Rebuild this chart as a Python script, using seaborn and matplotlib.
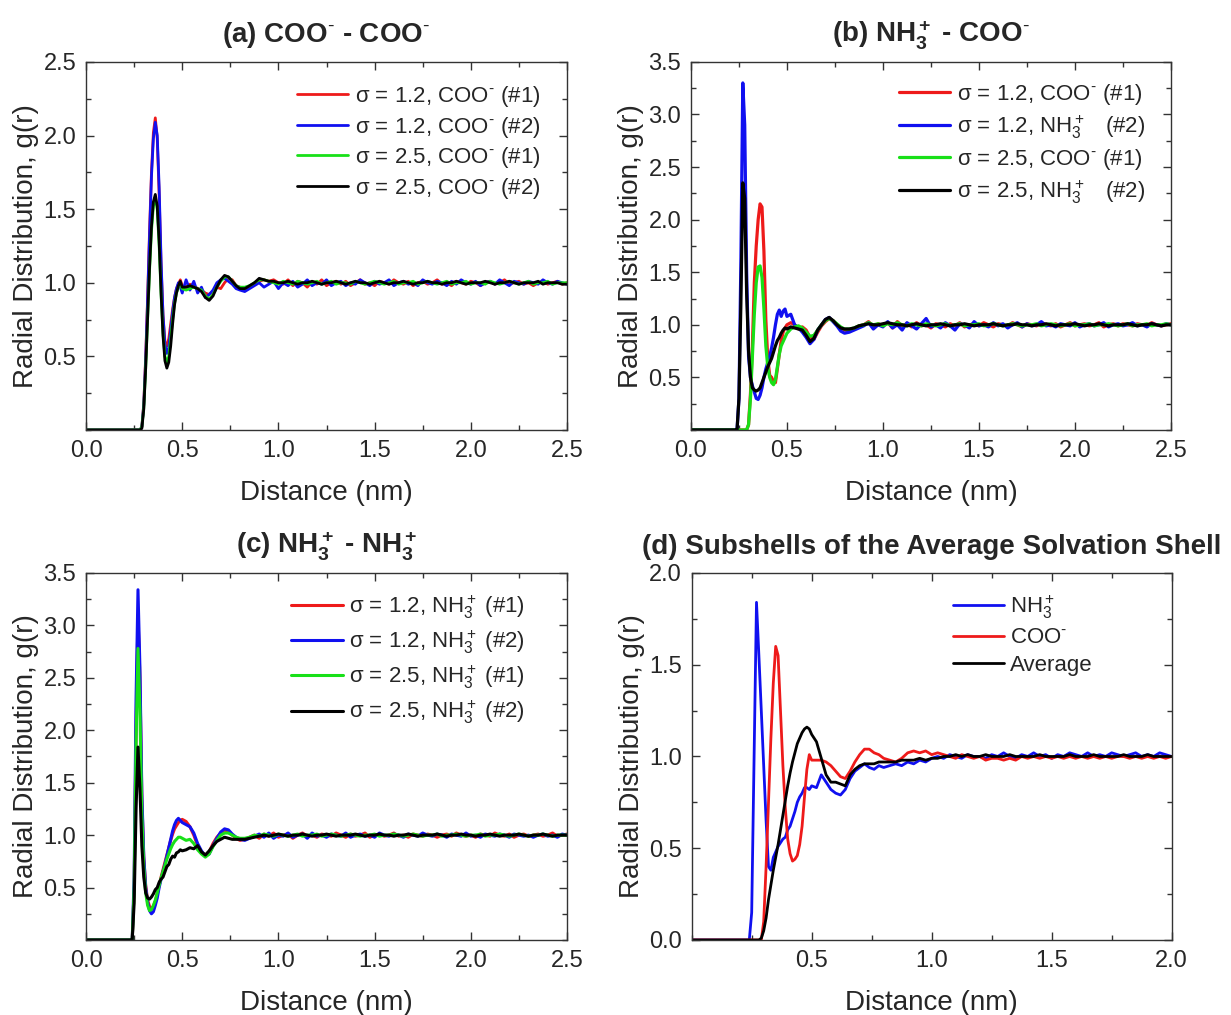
import numpy as np
import pandas as pd
import matplotlib
matplotlib.use("Agg")
import matplotlib.pyplot as plt
import seaborn as sns
from matplotlib.ticker import MultipleLocator, FixedLocator

# ---------------- distance grids (nm) ----------------
r_fine = np.round(np.concatenate([[0.0], np.arange(0.20, 0.5001, 0.01)]), 3)   # 32 pts
r_mid = np.round(np.arange(0.52, 0.8001, 0.02), 3)                              # 15 pts
r_tail_a = np.round(np.arange(0.825, 2.5001, 0.025), 3)                         # 68 pts
r_tail_d = np.round(np.arange(0.825, 2.0001, 0.025), 3)                         # 48 pts

COO = "COO$^{\\text{-}}$"
NH3 = "NH$_3^+$"

# ---------------- panel (a) COO- - COO- ----------------
a_labels = [f"σ = 1.2, {COO} (#1)", f"σ = 1.2, {COO} (#2)",
            f"σ = 2.5, {COO} (#1)", f"σ = 2.5, {COO} (#2)"]
a_red_fine = [0.0, 0, 0, 0, 0, 0, 0, 0, 0, 0,
              0.02, 0.18, 0.50, 0.90, 1.35, 1.75, 2.02, 2.12, 1.98, 1.60,
              1.12, 0.78, 0.60, 0.57, 0.62, 0.72, 0.82, 0.90, 0.96, 0.99,
              1.02, 0.98]
a_red_mid = [0.97, 0.99, 0.98, 0.96, 0.95, 0.93, 0.92, 0.94, 0.97, 0.96, 1.00, 1.03, 1.02, 0.98, 0.97]
a_red_tail = [0.96, 0.97, 0.99, 1.01, 1.02, 1.01, 1.02, 1.00, 0.99, 1.02,
              0.98, 1.01, 1.00, 0.97, 1.01, 0.99, 1.02, 0.98, 1.00, 1.01,
              0.99, 1.01, 0.98, 1.00, 1.02, 0.99, 1.00, 0.98, 1.01, 1.00,
              0.99, 1.02, 1.00, 0.99, 1.01, 0.98, 1.00, 1.01, 0.99, 1.00,
              1.02, 0.99, 1.00, 0.98, 1.01, 1.00, 0.99, 1.01, 1.00, 0.98,
              1.00, 1.01, 0.99, 1.00, 1.02, 0.99, 1.00, 1.01, 0.99, 1.00,
              0.98, 1.00, 1.01, 0.99, 1.00, 1.01, 0.99, 1.00]
a_blue_fine = [0.0, 0, 0, 0, 0, 0, 0, 0, 0, 0,
               0.02, 0.17, 0.48, 0.88, 1.32, 1.72, 1.98, 2.09, 2.00, 1.65,
               1.15, 0.78, 0.58, 0.52, 0.56, 0.68, 0.80, 0.90, 0.96, 1.00,
               0.97, 0.93]
a_blue_mid = [1.02, 0.95, 1.01, 0.93, 0.97, 0.90, 0.92, 0.95, 1.00, 1.02, 1.03, 1.01, 0.99, 0.96, 0.95]
a_blue_tail = [0.94, 0.96, 0.98, 1.00, 0.97, 0.99, 1.01, 0.96, 1.00, 0.98,
               1.01, 0.97, 0.99, 1.02, 0.98, 1.00, 0.99, 1.02, 0.98, 1.00,
               1.01, 0.98, 1.00, 0.99, 1.02, 1.00, 0.98, 1.01, 0.99, 1.00,
               1.02, 0.98, 1.00, 1.01, 0.99, 1.00, 0.98, 1.02, 1.00, 0.99,
               1.01, 1.00, 0.98, 1.01, 0.99, 1.02, 1.00, 0.99, 1.01, 0.98,
               1.00, 1.01, 0.99, 1.02, 1.00, 0.98, 1.01, 1.00, 0.99, 1.01,
               1.00, 0.99, 1.02, 1.00, 0.99, 1.01, 1.00, 0.99]
a_green_fine = [0.0, 0, 0, 0, 0, 0, 0, 0, 0, 0,
                0.02, 0.15, 0.42, 0.75, 1.08, 1.35, 1.52, 1.58, 1.50, 1.25,
                0.92, 0.66, 0.50, 0.46, 0.50, 0.62, 0.75, 0.86, 0.93, 0.97,
                0.99, 0.96]
a_green_mid = [0.95, 0.96, 0.97, 0.96, 0.95, 0.91, 0.89, 0.92, 0.97, 1.01, 1.04, 1.04, 1.01, 0.98, 0.97]
a_green_tail = [0.97, 0.98, 1.00, 1.02, 1.02, 1.01, 1.00, 0.99, 1.01, 1.00,
                0.99, 1.01, 1.00, 0.99, 1.00, 1.01, 0.99, 1.00, 1.01, 0.99,
                1.00, 1.00, 0.99, 1.01, 1.00, 0.99, 1.00, 1.01, 1.00, 0.99,
                1.00, 1.01, 0.99, 1.00, 1.00, 1.01, 0.99, 1.00, 1.01, 1.00,
                0.99, 1.00, 1.01, 0.99, 1.00, 1.00, 1.01, 0.99, 1.00, 1.00,
                0.99, 1.01, 1.00, 0.99, 1.00, 1.01, 1.00, 0.99, 1.00, 1.01,
                0.99, 1.00, 1.00, 1.01, 0.99, 1.00, 1.00, 1.00]
a_black_fine = [0.0, 0, 0, 0, 0, 0, 0, 0, 0, 0,
                0.01, 0.14, 0.42, 0.76, 1.10, 1.38, 1.55, 1.60, 1.52, 1.28,
                0.93, 0.64, 0.47, 0.42, 0.46, 0.57, 0.72, 0.85, 0.93, 0.98,
                1.01, 0.97]
a_black_mid = [0.97, 0.98, 0.97, 0.96, 0.94, 0.90, 0.88, 0.91, 0.97, 1.02, 1.05, 1.04, 1.01, 0.98, 0.96]
a_black_tail = [0.96, 0.98, 1.00, 1.03, 1.02, 1.01, 1.01, 1.00, 1.00, 1.01,
                1.00, 0.99, 1.00, 1.00, 1.01, 1.00, 0.99, 1.00, 1.00, 1.01,
                1.00, 0.99, 1.00, 1.01, 1.00, 1.00, 0.99, 1.00, 1.01, 1.00,
                0.99, 1.00, 1.00, 1.01, 1.00, 0.99, 1.00, 1.00, 1.01, 1.00,
                1.00, 0.99, 1.00, 1.00, 1.01, 1.00, 0.99, 1.00, 1.00, 1.00,
                1.01, 1.00, 0.99, 1.00, 1.00, 1.01, 1.00, 0.99, 1.00, 1.00,
                1.00, 1.01, 0.99, 1.00, 1.00, 1.00, 0.99, 0.99]

# ---------------- panel (b) NH3+ - COO- ----------------
b_labels = [f"σ = 1.2, {COO} (#1)", f"σ = 1.2, {NH3}   (#2)",
            f"σ = 2.5, {COO} (#1)", f"σ = 2.5, {NH3}   (#2)"]
b_red_fine = [0.0, 0, 0, 0, 0, 0, 0, 0, 0, 0, 0,
              0.05, 0.35, 0.80, 1.40, 1.75, 2.00, 2.15, 2.12, 1.70, 1.05,
              0.68, 0.52, 0.50, 0.46, 0.45, 0.58, 0.72, 0.85, 0.93, 0.97,
              1.00]
b_red_mid = [1.02, 1.00, 0.96, 0.98, 0.95, 0.88, 0.86, 0.93, 0.99, 1.03, 1.06, 1.04, 1.00, 0.97, 0.95]
b_red_tail = [0.94, 0.96, 0.99, 1.00, 1.03, 0.98, 1.01, 0.99, 1.02, 0.97,
              1.03, 0.99, 1.01, 0.98, 1.02, 0.99, 1.00, 0.97, 1.01, 1.00,
              0.98, 1.01, 0.99, 1.02, 0.98, 1.00, 1.01, 0.99, 1.02, 1.00,
              0.98, 1.01, 1.00, 0.99, 1.02, 1.00, 0.98, 1.01, 1.00, 0.99,
              1.02, 1.00, 0.99, 1.01, 0.98, 1.00, 1.02, 0.99, 1.00, 1.01,
              0.99, 1.00, 1.02, 0.98, 1.00, 1.01, 0.99, 1.01, 1.00, 0.99,
              1.01, 1.00, 0.99, 1.02, 1.00, 0.99, 1.00, 1.01]
b_blue_fine = [0.0, 0, 0, 0, 0, 0,
               0.30, 1.60, 3.30, 2.90, 1.50, 0.70, 0.50, 0.42, 0.36, 0.30,
               0.29, 0.33, 0.40, 0.50, 0.58, 0.64, 0.70, 0.78, 0.88, 1.00,
               1.10, 1.14, 1.08, 1.13, 1.15, 1.08]
b_blue_mid = [1.10, 1.00, 0.97, 0.93, 0.88, 0.82, 0.86, 0.95, 1.00, 1.05, 1.07, 1.03, 0.99, 0.94, 0.92]
b_blue_tail = [0.93, 0.95, 0.97, 0.99, 1.02, 0.96, 1.00, 0.98, 1.03, 0.97,
               1.00, 0.95, 1.02, 0.99, 0.96, 1.01, 1.06, 0.98, 1.00, 0.97,
               1.02, 0.99, 0.95, 1.01, 1.00, 0.97, 1.03, 0.99, 1.00, 0.98,
               1.02, 0.99, 1.01, 0.97, 1.00, 1.02, 0.98, 1.01, 0.99, 1.00,
               1.03, 0.99, 1.00, 0.98, 1.01, 1.00, 0.99, 1.02, 0.98, 1.00,
               1.01, 0.99, 1.00, 1.02, 0.98, 1.00, 1.01, 0.99, 1.00, 1.02,
               0.99, 1.00, 0.98, 1.01, 1.00, 0.99, 1.01, 1.00]
b_green_fine = [0.0, 0, 0, 0, 0, 0, 0, 0, 0, 0, 0,
                0.05, 0.30, 0.70, 1.10, 1.40, 1.55, 1.56, 1.45, 1.15, 0.80,
                0.60, 0.50, 0.45, 0.43, 0.48, 0.60, 0.72, 0.80, 0.84, 0.88,
                0.92]
b_green_mid = [0.96, 0.98, 0.99, 0.97, 0.93, 0.89, 0.90, 0.95, 1.00, 1.04, 1.06, 1.04, 1.01, 0.98, 0.96]
b_green_tail = [0.96, 0.97, 0.99, 1.00, 1.02, 1.00, 1.01, 0.99, 1.01, 1.00,
                1.02, 1.00, 0.99, 1.01, 1.00, 0.99, 1.01, 1.00, 0.99, 1.00,
                1.01, 0.99, 1.00, 1.01, 0.99, 1.00, 1.00, 1.01, 0.99, 1.00,
                1.01, 1.00, 0.99, 1.00, 1.01, 1.00, 0.99, 1.00, 1.00, 1.01,
                0.99, 1.00, 1.01, 1.00, 0.99, 1.00, 1.01, 0.99, 1.00, 1.00,
                1.01, 0.99, 1.00, 1.00, 1.01, 1.00, 0.99, 1.00, 1.01, 0.99,
                1.00, 1.00, 1.01, 0.99, 1.00, 1.00, 1.01, 1.00]
b_black_fine = [0.0, 0, 0, 0, 0, 0,
                0.30, 1.20, 2.35, 2.20, 1.30, 0.75, 0.50, 0.40, 0.38, 0.37,
                0.38, 0.40, 0.45, 0.50, 0.55, 0.60, 0.64, 0.68, 0.74, 0.80,
                0.85, 0.88, 0.92, 0.95, 0.97, 0.96]
b_black_mid = [0.98, 0.97, 0.96, 0.95, 0.90, 0.84, 0.87, 0.95, 1.00, 1.05, 1.07, 1.04, 1.00, 0.97, 0.96]
b_black_tail = [0.96, 0.97, 0.99, 1.00, 1.01, 1.00, 1.00, 1.01, 1.02, 1.01,
                1.00, 1.00, 0.99, 1.00, 1.01, 1.00, 0.99, 1.00, 1.00, 1.01,
                1.00, 0.99, 1.00, 1.00, 1.01, 1.00, 0.99, 1.00, 1.00, 1.00,
                1.01, 1.00, 0.99, 1.00, 1.00, 1.01, 1.00, 1.00, 0.99, 1.00,
                1.00, 1.01, 1.00, 0.99, 1.00, 1.00, 1.00, 1.01, 1.00, 0.99,
                1.00, 1.00, 1.01, 1.00, 0.99, 1.00, 1.00, 1.00, 1.01, 1.00,
                0.99, 1.00, 1.00, 1.01, 1.00, 0.99, 1.00, 1.00]

# ---------------- panel (c) NH3+ - NH3+ ----------------
c_labels = [f"σ = 1.2, {NH3} (#1)", f"σ = 1.2, {NH3} (#2)",
            f"σ = 2.5, {NH3} (#1)", f"σ = 2.5, {NH3} (#2)"]
c_red_fine = [0.0, 0, 0, 0, 0, 0,
              0.50, 2.00, 3.10, 2.50, 1.35, 0.78, 0.52, 0.38, 0.32, 0.30,
              0.32, 0.37, 0.44, 0.52, 0.60, 0.67, 0.74, 0.81, 0.88, 0.95,
              1.01, 1.06, 1.09, 1.12, 1.14, 1.15]
c_red_mid = [1.13, 1.08, 1.00, 0.90, 0.84, 0.81, 0.84, 0.92, 0.98, 1.02, 1.05, 1.03, 1.00, 0.97, 0.95]
c_red_tail = [0.96, 0.98, 1.00, 0.97, 1.01, 0.99, 1.02, 0.98, 1.00, 1.01,
              0.97, 1.00, 1.02, 0.99, 1.00, 0.98, 1.01, 1.00, 0.99, 1.02,
              1.00, 0.98, 1.01, 0.99, 1.00, 1.02, 0.98, 1.00, 1.01, 0.99,
              1.00, 1.02, 0.99, 1.00, 0.98, 1.01, 1.00, 0.99, 1.01, 1.00,
              0.98, 1.00, 1.01, 0.99, 1.02, 1.00, 0.99, 1.00, 0.98, 1.01,
              1.00, 0.99, 1.02, 1.00, 0.99, 1.01, 0.98, 1.00, 1.01, 0.99,
              1.00, 1.01, 0.99, 1.00, 1.02, 0.99, 1.00, 1.01]
c_blue_fine = [0.0, 0, 0, 0, 0, 0,
               0.60, 2.30, 3.34, 2.60, 1.40, 0.80, 0.50, 0.36, 0.28, 0.25,
               0.27, 0.33, 0.40, 0.50, 0.58, 0.65, 0.72, 0.80, 0.88, 0.96,
               1.04, 1.10, 1.14, 1.16, 1.14, 1.12]
c_blue_mid = [1.10, 1.08, 1.02, 0.92, 0.85, 0.80, 0.82, 0.90, 0.97, 1.03, 1.06, 1.05, 1.01, 0.98, 0.96]
c_blue_tail = [0.95, 0.97, 0.99, 1.01, 0.98, 1.02, 0.97, 1.00, 0.99, 1.02,
               0.98, 1.00, 1.01, 0.97, 1.02, 0.99, 1.00, 0.98, 1.01, 1.00,
               0.99, 1.02, 0.98, 1.00, 1.01, 0.99, 1.00, 0.98, 1.02, 1.00,
               0.99, 1.01, 1.00, 0.98, 1.01, 1.00, 0.99, 1.02, 1.00, 0.99,
               1.01, 1.00, 0.98, 1.01, 1.00, 0.99, 1.02, 0.99, 1.00, 0.98,
               1.01, 1.00, 0.99, 1.01, 1.00, 0.98, 1.01, 1.00, 0.99, 1.00,
               0.98, 1.00, 1.01, 0.99, 1.00, 0.98, 1.01, 1.00]
c_green_fine = [0.0, 0, 0, 0, 0, 0,
                0.50, 1.90, 2.78, 2.20, 1.20, 0.70, 0.45, 0.33, 0.28, 0.29,
                0.33, 0.38, 0.45, 0.52, 0.59, 0.65, 0.71, 0.77, 0.82, 0.87,
                0.91, 0.94, 0.96, 0.98, 0.98, 0.97]
c_green_mid = [0.95, 0.96, 0.92, 0.86, 0.82, 0.79, 0.82, 0.89, 0.95, 1.00, 1.02, 1.02, 1.00, 0.98, 0.97]
c_green_tail = [0.97, 0.98, 1.00, 0.99, 1.01, 1.00, 0.99, 1.01, 1.00, 0.99,
                1.00, 1.01, 0.99, 1.00, 1.00, 1.01, 0.99, 1.00, 1.01, 1.00,
                0.99, 1.00, 1.01, 1.00, 0.99, 1.00, 1.00, 1.01, 0.99, 1.00,
                1.00, 1.01, 1.00, 0.99, 1.00, 1.01, 1.00, 0.99, 1.00, 1.00,
                1.01, 0.99, 1.00, 1.00, 1.01, 1.00, 0.99, 1.00, 1.00, 1.01,
                0.99, 1.00, 1.00, 1.01, 1.00, 0.99, 1.00, 1.01, 1.00, 0.99,
                1.00, 1.00, 1.01, 1.00, 0.99, 1.00, 1.00, 1.00]
c_black_fine = [0.0, 0, 0, 0, 0, 0,
                0.35, 1.25, 1.84, 1.45, 0.90, 0.60, 0.45, 0.40, 0.39, 0.41,
                0.44, 0.48, 0.50, 0.55, 0.58, 0.60, 0.65, 0.70, 0.72, 0.77,
                0.80, 0.79, 0.83, 0.84, 0.86, 0.85]
c_black_mid = [0.86, 0.88, 0.87, 0.90, 0.84, 0.81, 0.85, 0.90, 0.94, 0.96, 0.98, 0.97, 0.96, 0.96, 0.96]
c_black_tail = [0.96, 0.97, 0.98, 0.99, 1.00, 0.99, 1.00, 1.01, 1.00, 0.99,
                1.00, 1.00, 1.01, 1.00, 0.99, 1.00, 1.00, 1.01, 1.00, 0.99,
                1.00, 1.00, 1.00, 1.01, 1.00, 0.99, 1.00, 1.00, 1.01, 1.00,
                1.00, 0.99, 1.00, 1.00, 1.01, 1.00, 0.99, 1.00, 1.00, 1.00,
                1.01, 1.00, 0.99, 1.00, 1.00, 1.01, 1.00, 1.00, 0.99, 1.00,
                1.00, 1.01, 1.00, 0.99, 1.00, 1.00, 1.00, 1.01, 1.00, 0.99,
                1.00, 1.00, 1.01, 1.00, 0.99, 1.00, 1.00, 1.00]

# ---------------- panel (d) subshells ----------------
d_labels = [NH3, COO, "Average"]
d_blue_fine = [0.0, 0, 0, 0, 0, 0,
               0.15, 1.00, 1.84, 1.55, 1.25, 0.95, 0.65, 0.40, 0.38, 0.45,
               0.48, 0.51, 0.53, 0.55, 0.56, 0.60, 0.62, 0.66, 0.70, 0.75,
               0.78, 0.80, 0.83, 0.83, 0.82, 0.84]
d_blue_mid = [0.83, 0.90, 0.86, 0.82, 0.80, 0.79, 0.82, 0.88, 0.92, 0.94, 0.96, 0.94, 0.93, 0.95, 0.94]
d_blue_tail = [0.95, 0.96, 0.95, 0.97, 0.96, 0.98, 0.97, 0.99, 1.00, 0.99,
               1.01, 1.00, 0.99, 1.01, 1.00, 1.00, 0.99, 1.01, 1.00, 1.02,
               1.00, 0.99, 1.01, 1.00, 1.02, 1.00, 1.01, 0.99, 1.01, 1.00,
               1.02, 1.01, 1.00, 1.02, 1.00, 1.01, 1.00, 1.02, 1.01, 1.00,
               1.01, 1.02, 1.00, 1.01, 1.00, 1.02, 1.01, 1.00]
d_red_fine = [0.0, 0, 0, 0, 0, 0, 0, 0, 0, 0,
              0.0, 0.10, 0.40, 0.75, 1.10, 1.40, 1.60, 1.55, 1.25, 0.95,
              0.72, 0.55, 0.47, 0.43, 0.44, 0.46, 0.52, 0.62, 0.78, 0.93,
              1.01, 0.98]
d_red_mid = [0.98, 0.98, 0.97, 0.95, 0.92, 0.89, 0.88, 0.92, 0.97, 1.01, 1.04, 1.04, 1.02, 1.01, 0.99]
d_red_tail = [0.98, 0.97, 0.99, 1.02, 1.03, 1.02, 1.03, 1.01, 1.02, 1.01,
              1.00, 0.99, 1.01, 1.00, 0.99, 1.00, 0.98, 0.99, 0.99, 0.98,
              0.99, 0.98, 1.00, 0.99, 1.00, 0.99, 1.00, 0.99, 1.00, 0.99,
              1.00, 0.99, 1.00, 0.99, 1.00, 0.99, 1.00, 0.99, 1.00, 1.00,
              0.99, 1.00, 0.99, 1.00, 0.99, 1.00, 0.99, 1.00]
d_black_fine = [0.0, 0, 0, 0, 0, 0, 0, 0, 0, 0,
                0.01, 0.05, 0.12, 0.22, 0.30, 0.38, 0.45, 0.52, 0.60, 0.68,
                0.76, 0.84, 0.91, 0.97, 1.02, 1.07, 1.10, 1.13, 1.15, 1.16,
                1.15, 1.12]
d_black_mid = [1.08, 0.99, 0.90, 0.86, 0.86, 0.85, 0.84, 0.90, 0.93, 0.95, 0.96, 0.96, 0.96, 0.97, 0.97]
d_black_tail = [0.97, 0.97, 0.98, 0.98, 0.98, 0.99, 0.98, 0.99, 0.99, 1.00,
                1.00, 1.01, 1.00, 1.01, 1.00, 1.00, 1.01, 1.00, 1.00, 1.00,
                1.01, 1.00, 1.00, 1.00, 1.00, 1.01, 1.00, 1.00, 1.00, 1.00,
                1.01, 1.00, 1.00, 1.00, 1.01, 1.00, 1.00, 1.00, 1.00, 1.01,
                1.00, 1.00, 1.00, 1.01, 1.00, 1.00, 1.00, 1.00]

# ---------------- style ----------------
sns.set_style("ticks")
plt.rcParams["font.family"] = ["Liberation Sans", "DejaVu Sans"]
plt.rcParams["mathtext.fontset"] = "custom"
plt.rcParams["mathtext.rm"] = "Liberation Sans"
plt.rcParams["mathtext.it"] = "Liberation Sans:italic"
plt.rcParams["mathtext.bf"] = "Liberation Sans:bold"
plt.rcParams["mathtext.default"] = "regular"

RED, BLUE, GREEN, BLACK = "#ee1a1a", "#1010f0", "#18e018", "#000000"

fig = plt.figure(figsize=(12.31, 10.15), dpi=100)


def build(fines, mids, tails, r_tail):
    r = np.concatenate([r_fine, r_mid, r_tail])
    out = []
    for f, m, t in zip(fines, mids, tails):
        y = np.concatenate([f, m, t])
        assert len(y) == len(r), (len(f), len(m), len(t))
        out.append(y)
    return r, out


def draw(ax, r, ys, labels, colors, lw, xlim, ylim, xticks, yticks, title,
         leg_anchor, leg_spacing):
    frames = [pd.DataFrame({"Distance": r, "g": y, "Series": lab})
              for lab, y in zip(labels, ys)]
    df = pd.concat(frames, ignore_index=True)
    sns.lineplot(data=df, x="Distance", y="g", hue="Series", hue_order=labels,
                 palette=dict(zip(labels, colors)), estimator=None, sort=False,
                 linewidth=lw, ax=ax, legend=False)
    ax.set_xlim(*xlim)
    ax.set_ylim(*ylim)
    ax.xaxis.set_major_locator(FixedLocator(xticks))
    ax.yaxis.set_major_locator(FixedLocator(yticks))
    ax.xaxis.set_minor_locator(MultipleLocator(0.25))
    ax.yaxis.set_minor_locator(MultipleLocator(0.25))
    ax.tick_params(which="both", direction="in", top=True, right=True,
                   width=1.0, color="#333333")
    ax.tick_params(which="major", length=6, labelsize=17, pad=7)
    ax.tick_params(which="minor", length=3.5)
    for sp in ax.spines.values():
        sp.set_linewidth(1.0)
        sp.set_color("#333333")
    ax.set_xlabel("Distance (nm)", fontsize=20, labelpad=13)
    ax.set_ylabel("Radial Distribution, g(r)", fontsize=20, labelpad=3)
    ax.set_title(title, fontsize=20, fontweight="bold", pad=14)
    handles = ax.get_lines()[:len(labels)]
    ax.legend(handles, labels, loc="upper right", bbox_to_anchor=leg_anchor,
              frameon=False, fontsize=16, handlelength=2.3, handletextpad=0.3,
              labelspacing=leg_spacing, borderaxespad=0, borderpad=0)


W = 0.3907
H = 0.3626
ax_a = fig.add_axes([0.0699, 0.5764, W, H])
ax_b = fig.add_axes([0.5613, 0.5764, 0.3899, H])
ax_c = fig.add_axes([0.0699, 0.0739, W, 0.3616])
ax_d = fig.add_axes([0.5619, 0.0739, 0.3899, 0.3616])

r_a, ys_a = build([a_red_fine, a_blue_fine, a_green_fine, a_black_fine],
                  [a_red_mid, a_blue_mid, a_green_mid, a_black_mid],
                  [a_red_tail, a_blue_tail, a_green_tail, a_black_tail], r_tail_a)
draw(ax_a, r_a, ys_a, a_labels, [RED, BLUE, GREEN, BLACK], 2.0,
     (0, 2.5), (0, 2.5), [0, 0.5, 1.0, 1.5, 2.0, 2.5], [0.5, 1.0, 1.5, 2.0, 2.5],
     f"(a) {COO} - {COO}", (0.944, 0.94), 0.25)

r_b, ys_b = build([b_red_fine, b_blue_fine, b_green_fine, b_black_fine],
                  [b_red_mid, b_blue_mid, b_green_mid, b_black_mid],
                  [b_red_tail, b_blue_tail, b_green_tail, b_black_tail], r_tail_a)
draw(ax_b, r_b, ys_b, b_labels, [RED, BLUE, GREEN, BLACK], 2.3,
     (0, 2.5), (0, 3.5), [0, 0.5, 1.0, 1.5, 2.0, 2.5],
     [0.5, 1.0, 1.5, 2.0, 2.5, 3.0, 3.5],
     f"(b) {NH3} - {COO}", (0.946, 0.945), 0.28)

r_c, ys_c = build([c_red_fine, c_blue_fine, c_green_fine, c_black_fine],
                  [c_red_mid, c_blue_mid, c_green_mid, c_black_mid],
                  [c_red_tail, c_blue_tail, c_green_tail, c_black_tail], r_tail_a)
draw(ax_c, r_c, ys_c, c_labels, [RED, BLUE, GREEN, BLACK], 2.2,
     (0, 2.5), (0, 3.5), [0, 0.5, 1.0, 1.5, 2.0, 2.5],
     [0.5, 1.0, 1.5, 2.0, 2.5, 3.0, 3.5],
     f"(c) {NH3} - {NH3}", (0.913, 0.945), 0.35)

r_d, ys_d = build([d_blue_fine, d_red_fine, d_black_fine],
                  [d_blue_mid, d_red_mid, d_black_mid],
                  [d_blue_tail, d_red_tail, d_black_tail], r_tail_d)
draw(ax_d, r_d, ys_d, d_labels, [BLUE, RED, BLACK], 2.0,
     (0, 2.0), (0, 2.0), [0.5, 1.0, 1.5, 2.0], [0.0, 0.5, 1.0, 1.5, 2.0],
     "(d) Subshells of the Average Solvation Shell", (0.836, 0.945), 0.3)

fig.savefig("out.png", dpi=100)
